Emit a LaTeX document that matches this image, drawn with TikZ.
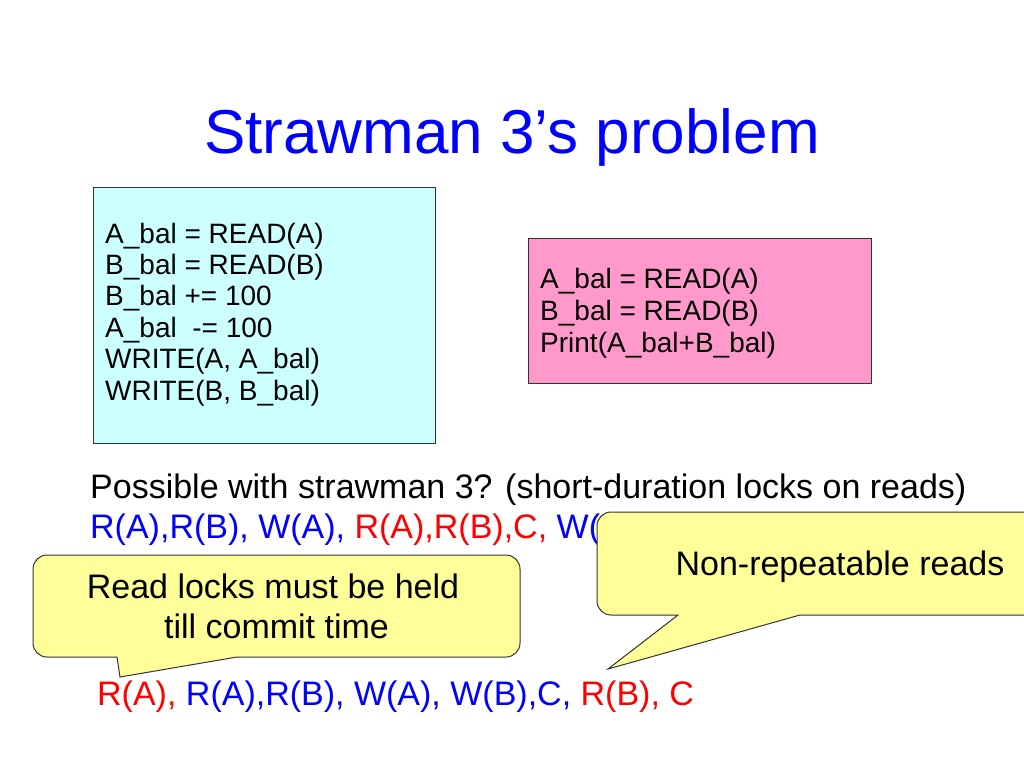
\documentclass[tikz,border=0pt]{standalone}
\usepackage{fontspec}
\setmainfont{Liberation Sans}
\definecolor{ttlblue}{RGB}{0,0,255}
\definecolor{txtred}{RGB}{255,0,0}
\definecolor{cyanfill}{RGB}{204,255,255}
\definecolor{pinkfill}{RGB}{255,153,204}
\definecolor{calloutfill}{RGB}{255,255,153}
\definecolor{edgegray}{RGB}{51,51,51}
\begin{document}
\begin{tikzpicture}[x=1pt,y=-1pt,
  bigtxt/.style={anchor=base west, inner sep=0pt, font=\fontsize{34}{40}\selectfont},
  boxtxt/.style={anchor=base west, inner sep=0pt, font=\fontsize{28}{32}\selectfont},
  bubtxt/.style={anchor=base, inner sep=0pt, font=\fontsize{34}{40}\selectfont},
  codebox/.style={draw=edgegray, line width=1pt, anchor=north west, inner sep=0pt},
  bubble/.style={draw=edgegray, fill=calloutfill, line width=1pt, line join=miter}]
\useasboundingbox (0,0) rectangle (1024,768);
\clip (0,0) rectangle (1024,768);
\fill[white] (0,0) rectangle (1024,768);

% title
\node[anchor=base, inner sep=0pt, font=\fontsize{62}{74}\selectfont, text=ttlblue] (title) at (512,153.5) {Strawman 3’s problem};

% cyan transaction box
\node[codebox, fill=cyanfill, minimum width=342pt, minimum height=256pt] (cyanbox) at (93,187) {};
\node[boxtxt] (c1) at (105,243.0) {A\_bal = READ(A)};
\node[boxtxt] (c2) at (105,274.4) {B\_bal = READ(B)};
\node[boxtxt] (c3) at (105,305.8) {B\_bal += 100};
\node[boxtxt] (c4) at (105,337.2) {A\_bal\ \ -= 100};
\node[boxtxt] (c5) at (105,368.6) {WRITE(A, A\_bal)};
\node[boxtxt] (c6) at (105,400.0) {WRITE(B, B\_bal)};

% pink transaction box
\node[codebox, fill=pinkfill, minimum width=343pt, minimum height=145pt] (pinkbox) at (528,238) {};
\node[boxtxt] (p1) at (540,288) {A\_bal = READ(A)};
\node[boxtxt] (p2) at (540,320) {B\_bal = READ(B)};
\node[boxtxt] (p3) at (540,352) {Print(A\_bal+B\_bal)};

% schedule text
\node[bigtxt] (question) at (90,498) {Possible with strawman 3? (short-duration locks on reads)};
\node[bigtxt, text=ttlblue] (sched1) at (90,538) {R(A),R(B), W(A), \textcolor{txtred}{R(A),R(B),C,} W(};

% left callout
\draw[bubble] (47,555) -- (506,555) arc(270:360:14) -- (520,643) arc(0:90:14)
  -- (237,657) -- (120,677) -- (117,657) -- (47,657) arc(90:180:14)
  -- (33,569) arc(180:270:14) -- cycle;
\node[bubtxt] (lefttxt1) at (273,598) {Read locks must be held};
\node[bubtxt] (lefttxt2) at (276.5,638) {till commit time};

% right callout
\draw[bubble] (611,512) -- (1076,512) arc(270:360:14) -- (1090,601) arc(0:90:14)
  -- (800,615) -- (608,669) -- (678,615) -- (611,615) arc(90:180:14)
  -- (597,526) arc(180:270:14) -- cycle;
\node[bubtxt] (righttxt) at (840,575) {Non-repeatable reads};

% bottom schedule
\node[bigtxt, text=txtred] (sched2) at (97,705) {R(A), \textcolor{ttlblue}{R(A),R(B), W(A), W(B),C,} R(B), C};
\end{tikzpicture}
\end{document}
